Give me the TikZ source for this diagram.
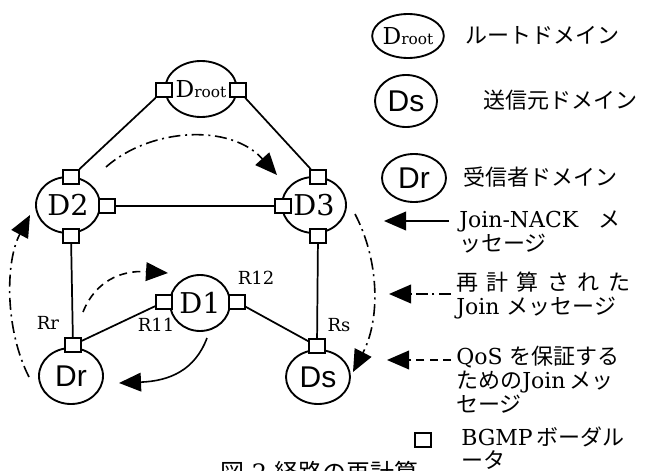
\documentclass[tikz,border=0pt]{standalone}
\usepackage{fontspec}
\setmainfont{DejaVu Serif}
\newfontfamily\jpfont{Noto Sans CJK JP}
\newfontfamily\helvfont{Liberation Sans}
\usetikzlibrary{shapes.geometric, arrows.meta}
\newcommand{\ja}[1]{{\jpfont #1}}
\newcommand{\Droot}{D{\fontsize{11.5}{11.5}\selectfont root}}
\newcommand{\gap}{\hspace{0.38em}}

\begin{document}
\begin{tikzpicture}[
    x=0.75pt, y=-0.75pt,
    dom/.style={ellipse, draw=black, line width=1.4pt, inner sep=0pt, minimum width=48pt, minimum height=42pt, font=\fontsize{21.5}{21.5}\selectfont},
    sdom/.style={dom, font=\helvfont\fontsize{22.5}{22.5}\selectfont},
    rdom/.style={dom, font=\fontsize{17.5}{17.5}\selectfont},
    border/.style={rectangle, draw=black, fill=white, line width=1.3pt, minimum width=12pt, minimum height=10.5pt, inner sep=0pt},
    link/.style={line width=1.3pt},
    msg/.style={-{Triangle[length=16.5pt, width=14pt]}, line width=1.2pt},
    recalc/.style={msg, dash pattern=on 9pt off 3.5pt on 1.5pt off 3.5pt},
    qos/.style={msg, dash pattern=on 6pt off 4pt},
    rlabel/.style={font=\fontsize{13.5}{13.5}\selectfont, inner sep=0pt},
    legtext/.style={anchor=north west, align=left, inner sep=0pt, font=\fontsize{16.5}{18}\selectfont}
]
\useasboundingbox (0,0) rectangle (662,471);
\clip (0,0) rectangle (662,471);

% =====================================================================
% DOMAINS
% =====================================================================
\node[rdom, minimum width=46.5pt] (Droot) at (201,89) {\Droot};
\node[dom] (D2) at (68,205) {D2};
\node[dom] (D3) at (314,205) {D3};
\node[dom, minimum width=45pt] (D1) at (200,303) {D1};
\node[sdom] (Dr) at (71,376) {Dr};
\node[sdom, minimum height=40.5pt] (Ds) at (318,377) {Ds};

% =====================================================================
% BGMP BORDER ROUTERS
% =====================================================================
\node[border] (bRootL) at (164,90) {};
\node[border] (bRootR) at (238,90) {};
\node[border] (b2T) at (71,177) {};
\node[border] (b2R) at (107,206) {};
\node[border] (b2B) at (71,236) {};
\node[border] (b3T) at (318,177) {};
\node[border] (b3L) at (283,206) {};
\node[border] (b3B) at (318,236) {};
\node[border] (b1L) at (164,302) {};
\node[border] (b1R) at (237,302) {};
\node[border] (brT) at (73,345) {};
\node[border] (bsT) at (317,346) {};

% router labels
\node[rlabel] (Rr) at (48,323) {Rr};
\node[rlabel] (R11) at (156,325) {R11};
\node[rlabel] (R12) at (256,278) {R12};
\node[rlabel] (Rs) at (339,325) {Rs};

% =====================================================================
% LINKS
% =====================================================================
\draw[link] (bRootL) -- (b2T);
\draw[link] (bRootR) -- (b3T);
\draw[link] (b2R) -- (b3L);
\draw[link] (b2B) -- (brT);
\draw[link] (b3B) -- (bsT);
\draw[link] (brT) -- (b1L);
\draw[link] (b1R) -- (bsT);

% =====================================================================
% MESSAGES
% =====================================================================
\coordinate (rc1s) at (106,167);  \coordinate (rc1e) at (277,175);
\coordinate (rc2s) at (29,377);   \coordinate (rc2e) at (30,215);
\coordinate (rc3s) at (355,214);  \coordinate (rc3e) at (353,372);
\coordinate (qs) at (83,312);     \coordinate (qe) at (168,273);
\coordinate (ns) at (207,338);    \coordinate (ne) at (119,383);

\draw[recalc] (rc1s) .. controls (150,128) and (230,123) .. (rc1e);
\draw[recalc] (rc2s) .. controls (5,330) and (5,262) .. (rc2e);
\draw[recalc] (rc3s) .. controls (380,262) and (380,320) .. (rc3e);
\draw[qos] (qs) .. controls (95,282) and (120,270) .. (qe);
\draw[msg] (ns) .. controls (195,370) and (170,381) .. (ne);

% =====================================================================
% LEGEND
% =====================================================================
\node[rdom, minimum width=45pt, minimum height=33pt] (LDroot) at (408,36) {\Droot};
\node[legtext, anchor=west] (LDrootT) at (465,35) {\ja{ルートドメイン}};

\node[sdom, minimum width=46.5pt, minimum height=39pt] (LDs) at (406,101) {Ds};
\node[legtext, anchor=west] (LDsT) at (483,100) {\ja{送信元ドメイン}};

\node[sdom, minimum width=48pt, minimum height=36pt] (LDr) at (414,178) {Dr\hspace{0.3em}};
\node[legtext, anchor=west] (LDrT) at (463,177) {\ja{受信者ドメイン}};

\node[legtext] (LNack) at (459,211) {Join-NACK\hspace{0.9em}\ja{メ}\\\ja{ッセージ}};
\coordinate (lns) at (449,221); \coordinate (lne) at (384,221);
\draw[msg] (lns) -- (lne);

\node[legtext] (LRecalc) at (456,272) {\ja{再\gap 計\gap 算\gap さ\gap れ\gap た}\\Join \ja{メッセージ}};
\coordinate (lrs) at (451,294); \coordinate (lre) at (389,294);
\draw[recalc] (lrs) -- (lre);

\node[legtext] (LQos) at (456,346) {QoS \ja{を保証する}\\\ja{ための}Join\,\ja{メッ}\\\ja{セージ}};
\coordinate (lqs) at (451,360); \coordinate (lqe) at (387,360);
\draw[qos] (lqs) -- (lqe);

\node[border, minimum width=12.5pt, minimum height=11pt] (LBorder) at (423,440) {};
\node[legtext, font=\fontsize{16.5}{17}\selectfont] (LBorderT) at (461,427) {BGMP\,\ja{ボーダル}\\\ja{ータ}};

% caption
\node[legtext, font=\fontsize{18}{18}\selectfont] (caption) at (220,461) {\ja{図} 2 \ja{経路の再計算}};

\end{tikzpicture}
\end{document}
